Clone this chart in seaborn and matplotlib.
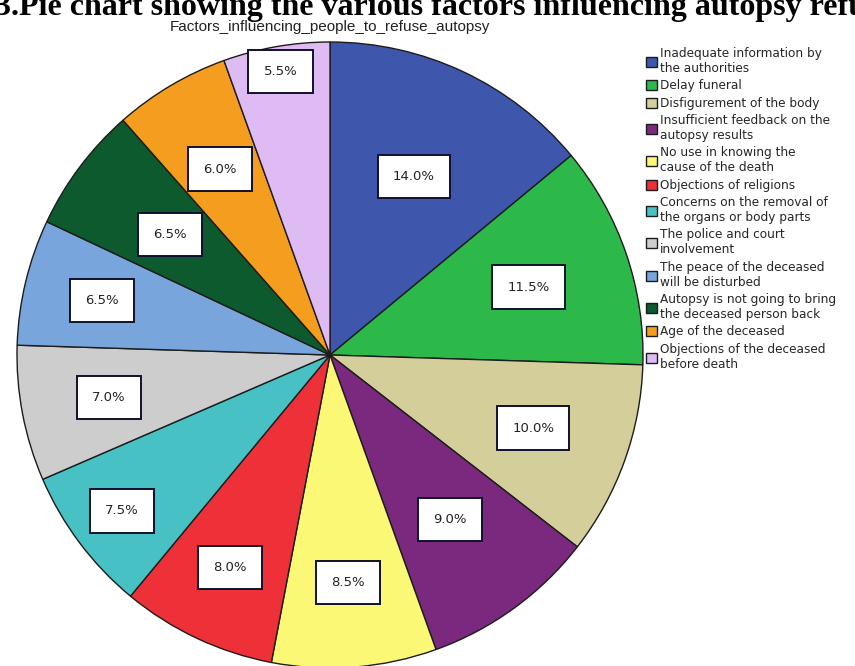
import numpy as np
import matplotlib
matplotlib.use("Agg")
import matplotlib.pyplot as plt
import seaborn as sns

# factors and their share (%)
factors = [
    "Inadequate information by\nthe authorities",
    "Delay funeral",
    "Disfigurement of the body",
    "Insufficient feedback on the\nautopsy results",
    "No use in knowing the\ncause of the death",
    "Objections of religions",
    "Concerns on the removal of\nthe organs or body parts",
    "The police and court\ninvolvement",
    "The peace of the deceased\nwill be disturbed",
    "Autopsy is not going to bring\nthe deceased person back",
    "Age of the deceased",
    "Objections of the deceased\nbefore death",
]
percent = [14.0, 11.5, 10.0, 9.0, 8.5, 8.0, 7.5, 7.0, 6.5, 6.5, 6.0, 5.5]

colors = ["#3E57AC", "#2DB84A", "#D4CE9A", "#7B297E", "#FBF876", "#EE3039",
          "#47C1C3", "#CDCDCD", "#78A5DB", "#0C5A2D", "#F59D1E", "#DEBBF3"]
# where SPSS dropped each percentage box (fraction of radius)
label_r = [0.63, 0.67, 0.69, 0.65, 0.73, 0.75, 0.83, 0.72, 0.75, 0.64, 0.69, 0.92]

sns.set_theme(style="white")
palette = sns.color_palette(colors)

fig = plt.figure(figsize=(8.55, 6.66), dpi=100)
# pie centre at about (330, 355) px, radius ~313 px
ax = fig.add_axes([17 / 855, -2 / 666, 626 / 855, 626 / 666])
wedges, _ = ax.pie(
    percent, colors=palette, startangle=90, counterclock=False, radius=1,
    wedgeprops=dict(edgecolor="#1c1c1c", linewidth=1.0),
)
ax.set_xlim(-1, 1)
ax.set_ylim(-1, 1)
ax.set_aspect("equal")
ax.axis("off")

for w, p, r in zip(wedges, percent, label_r):
    mid = np.deg2rad((w.theta1 + w.theta2) / 2)
    ax.text(r * np.cos(mid), r * np.sin(mid), f"{p:.1f}%",
            ha="center", va="center", fontsize=9.5, color="#222222",
            family="DejaVu Sans",
            bbox=dict(boxstyle="square,pad=1.15", fc="white", ec="#101030", lw=1.4))

# page caption above the chart, cut by the top edge like in the scan
fig.text(-0.006, 1 - 15 / 666,
         "3.Pie chart showing the various factors influencing autopsy refusal",
         ha="left", va="baseline", fontsize=23, fontweight="bold",
         family="Liberation Serif", color="black")
fig.text(330 / 855, 1 - 27 / 666, "Factors_influencing_people_to_refuse_autopsy",
         ha="center", va="center", fontsize=11, family="Liberation Sans",
         color="#222222")

fig.legend(wedges, factors, loc="upper left", bbox_to_anchor=(646 / 855, 1 - 47 / 666),
           frameon=False, handlelength=0.9, handleheight=0.9,
           handletextpad=0.25, labelspacing=0.36, borderpad=0, borderaxespad=0,
           prop=dict(family="DejaVu Sans", size=8.7))

fig.savefig("out.png", dpi=100)
